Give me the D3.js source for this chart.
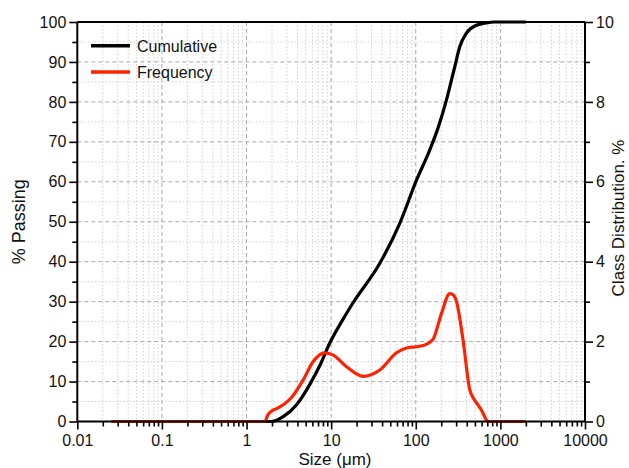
<!DOCTYPE html>
<html>
<head>
<meta charset="utf-8">
<script src="https://cdn.jsdelivr.net/npm/d3@7"></script>
<style>
  html, body { margin: 0; padding: 0; background: #fff; }
  svg { display: block; font-family: "Liberation Sans", Arial, sans-serif; }
</style>
</head>
<body>
<svg id="chart" width="629" height="468"></svg>
<script>
// ---- data ----
const cumSize = [0.025, 1.5, 1.98, 2.71, 3.9, 5.6, 7.35, 9.66, 13.3, 18.0, 37.6, 64.7, 102, 146.5, 183.5, 230.7, 289, 331, 397, 521, 684, 850, 2000];
const cumValue = [0, 0, 0, 1.2, 4.2, 9.3, 14.0, 19.7, 25.0, 29.6, 39.6, 49.6, 60.4, 68, 73.5, 80.5, 88.8, 93.8, 97.2, 99.2, 99.8, 100, 100];

const freqSize = [0.025, 1.0, 1.65, 1.78, 1.95, 2.3, 2.8, 3.4, 4.67, 6.13, 8.42, 10.6, 15.2, 23.9, 37.6, 59.2, 77.7, 100, 122, 160, 201, 252, 280, 303, 362, 435, 480, 521, 600, 715, 1000, 2000];
const freqValue = [0, 0, 0, 0.16, 0.25, 0.33, 0.44, 0.6, 1.04, 1.5, 1.72, 1.66, 1.37, 1.13, 1.29, 1.72, 1.84, 1.87, 1.9, 2.06, 2.7, 3.2, 3.16, 3.0, 2.04, 0.79, 0.58, 0.47, 0.28, 0, 0, 0];

const xTickValues = [0.01, 0.1, 1, 10, 100, 1000, 10000];
const xTickLabels = ["0.01", "0.1", "1", "10", "100", "1000", "10000"];
const yLeftTicks = [0, 10, 20, 30, 40, 50, 60, 70, 80, 90, 100];
const yRightTicks = [0, 2, 4, 6, 8, 10];
const seriesNames = ["Cumulative", "Frequency"];
const seriesColors = ["#000000", "#ff2200"];

// ---- layout ----
const svg = d3.select("#chart");
const L = 77.3, R = 585, T = 22, B = 421.5;

const x = d3.scaleLog().domain([0.01, 10000]).range([L, R]);
const yL = d3.scaleLinear().domain([0, 100]).range([B, T]);
const yR = d3.scaleLinear().domain([0, 10]).range([B, T]);

const xMinor = [];
for (let e = -2; e < 4; e++) for (let m = 2; m <= 9; m++) xMinor.push(m * Math.pow(10, e));
const yMinor = d3.range(5, 100, 10);
const yRMinor = [1, 3, 5, 7, 9];

const grid = svg.append("g");
grid.selectAll(".vmin").data(xMinor).join("line")
  .attr("x1", d => x(d)).attr("x2", d => x(d)).attr("y1", T).attr("y2", B)
  .attr("stroke", "#d0d0d0").attr("stroke-width", 1).attr("stroke-dasharray", "1.5,2");
grid.selectAll(".hmin").data(yMinor).join("line")
  .attr("x1", L).attr("x2", R).attr("y1", d => yL(d)).attr("y2", d => yL(d))
  .attr("stroke", "#d0d0d0").attr("stroke-width", 1).attr("stroke-dasharray", "1.5,2");
grid.selectAll(".vmaj").data(xTickValues.slice(1, -1)).join("line")
  .attr("x1", d => x(d)).attr("x2", d => x(d)).attr("y1", T).attr("y2", B)
  .attr("stroke", "#a8a8a8").attr("stroke-width", 1).attr("stroke-dasharray", "4,3");
grid.selectAll(".hmaj").data(yLeftTicks.slice(1, -1)).join("line")
  .attr("x1", L).attr("x2", R).attr("y1", d => yL(d)).attr("y2", d => yL(d))
  .attr("stroke", "#a8a8a8").attr("stroke-width", 1).attr("stroke-dasharray", "4,3");

// ---- lines ----
const cumLine = d3.line().x((d, i) => x(cumSize[i])).y(d => yL(d)).curve(d3.curveMonotoneX);
const freqLine = d3.line().x((d, i) => x(freqSize[i])).y(d => yR(d)).curve(d3.curveMonotoneX);

svg.append("path").datum(cumValue).attr("d", cumLine)
  .attr("fill", "none").attr("stroke", seriesColors[0]).attr("stroke-width", 3.2)
  .attr("stroke-linejoin", "round").attr("stroke-linecap", "butt");
svg.append("path").datum(freqValue).attr("d", freqLine)
  .attr("fill", "none").attr("stroke", seriesColors[1]).attr("stroke-width", 3.2)
  .attr("stroke-linejoin", "round").attr("stroke-linecap", "butt");

// ---- axes ----
const fontSize = 16;
const xAxis = d3.axisBottom(x).tickValues(xTickValues).tickFormat((d, i) => xTickLabels[i]).tickSize(8).tickPadding(5);
const gx = svg.append("g").attr("transform", `translate(0,${B})`).call(xAxis);
const xAxisMinor = d3.axisBottom(x).tickValues(xMinor).tickFormat("").tickSize(5);
svg.append("g").attr("transform", `translate(0,${B})`).call(xAxisMinor).select(".domain").remove();

const yAxis = d3.axisLeft(yL).tickValues(yLeftTicks).tickSize(8).tickPadding(3);
const gy = svg.append("g").attr("transform", `translate(${L},0)`).call(yAxis);
const yAxisMinor = d3.axisLeft(yL).tickValues(yMinor).tickFormat("").tickSize(5);
svg.append("g").attr("transform", `translate(${L},0)`).call(yAxisMinor).select(".domain").remove();

const yAxisR = d3.axisRight(yR).tickValues(yRightTicks).tickSize(8).tickPadding(3);
const gyr = svg.append("g").attr("transform", `translate(${R},0)`).call(yAxisR);
const yAxisRMinor = d3.axisRight(yR).tickValues(yRMinor).tickFormat("").tickSize(5);
svg.append("g").attr("transform", `translate(${R},0)`).call(yAxisRMinor).select(".domain").remove();

svg.append("line").attr("x1", L).attr("x2", R).attr("y1", T).attr("y2", T)
  .attr("stroke", "#000").attr("stroke-width", 2);

svg.selectAll(".domain").attr("stroke", "#000").attr("stroke-width", 2);
svg.selectAll(".tick line").attr("stroke", "#000").attr("stroke-width", 1.6);
svg.selectAll(".tick text").attr("font-size", fontSize).attr("fill", "#111")
  .attr("font-family", "'Liberation Sans', Arial, sans-serif");
gx.select(".domain").attr("d", `M${L},0H${R}`);
gy.select(".domain").attr("d", `M0,${B}V${T}`);
gyr.select(".domain").attr("d", `M0,${B}V${T}`);

// ---- titles ----
svg.append("text").attr("x", 335).attr("y", 465)
  .attr("text-anchor", "middle").attr("font-size", 17).attr("fill", "#111")
  .text("Size (μm)");
svg.append("text").attr("transform", `translate(25,${(T + B) / 2}) rotate(-90)`)
  .attr("text-anchor", "middle").attr("font-size", 18).attr("fill", "#111")
  .text("% Passing");
svg.append("text").attr("transform", `translate(624,218) rotate(-90)`)
  .attr("text-anchor", "middle").attr("font-size", 17).attr("fill", "#111")
  .text("Class Distribution. %");

// ---- legend ----
const leg = svg.append("g");
seriesNames.forEach((name, i) => {
  const yy = 45.7 + i * 26.3;
  leg.append("line").attr("x1", 91).attr("x2", 130).attr("y1", yy).attr("y2", yy)
    .attr("stroke", seriesColors[i]).attr("stroke-width", 3.5);
  leg.append("text").attr("x", 137).attr("y", yy + 5.8).attr("font-size", 16).attr("fill", "#111")
    .text(name);
});
</script>
</body>
</html>
